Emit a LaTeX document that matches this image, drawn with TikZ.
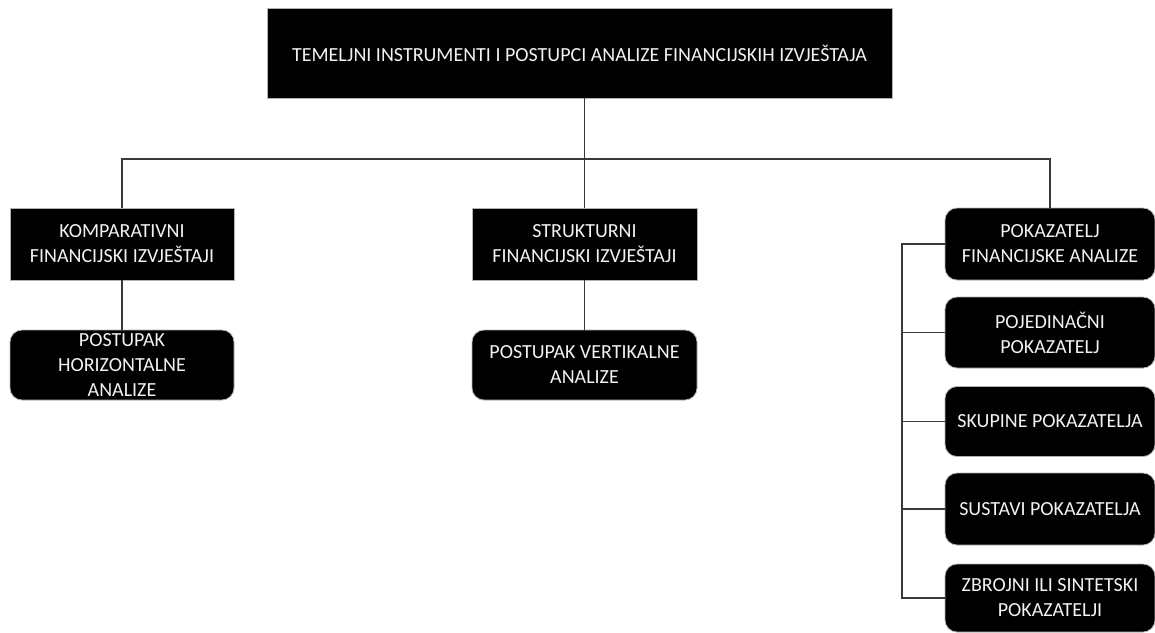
\documentclass[tikz,border=0pt]{standalone}
\usepackage{fontspec}
\setmainfont{Carlito}
\begin{document}
\begin{tikzpicture}[x=1pt,y=-1pt,
  box/.style={draw=gray!60,line width=0.8pt,fill=black,text=white!95!black,align=center,
    inner sep=0pt,font=\fontsize{20}{25}\selectfont},
  rbox/.style={box,rounded corners=12pt},
  conn/.style={draw=gray!45!black,line width=1.1pt}]
\useasboundingbox (0,0) rectangle (1155,632);
\node[box,minimum width=625pt,minimum height=90pt] (top) at (579.5,53) {TEMELJNI INSTRUMENTI I POSTUPCI ANALIZE FINANCIJSKIH IZVJEŠTAJA};
\node[box,minimum width=224pt,minimum height=72pt] (k1) at (122,244) {KOMPARATIVNI\\FINANCIJSKI IZVJEŠTAJI};
\node[rbox,minimum width=224pt,minimum height=70pt] (k2) at (122,365) {POSTUPAK\\HORIZONTALNE\\ANALIZE};
\node[box,minimum width=225pt,minimum height=72pt] (s1) at (584.5,244) {STRUKTURNI\\FINANCIJSKI IZVJEŠTAJI};
\node[rbox,minimum width=225pt,minimum height=70pt] (s2) at (584.5,365) {POSTUPAK VERTIKALNE\\ANALIZE};
\node[rbox,minimum width=210pt,minimum height=72pt] (p1) at (1050,244) {POKAZATELJ\\FINANCIJSKE ANALIZE};
\node[rbox,minimum width=210pt,minimum height=71pt] (p2) at (1050,332.5) {POJEDINAČNI\\POKAZATELJ};
\node[rbox,minimum width=210pt,minimum height=70pt] (p3) at (1050,421.5) {SKUPINE POKAZATELJA};
\node[rbox,minimum width=210pt,minimum height=72pt] (p4) at (1050,509) {SUSTAVI POKAZATELJA};
\node[rbox,minimum width=210pt,minimum height=68pt] (p5) at (1050,598) {ZBROJNI ILI SINTETSKI\\POKAZATELJI};
\coordinate (bus) at (0,159);
\coordinate (rail) at (902,0);
\draw[conn] (s1.north |- top.south) -- (s1.north |- bus);
\draw[conn] (k1.north) -- (k1.north |- bus) -- (p1.north |- bus) -- (p1.north);
\draw[conn] (s1.north |- bus) -- (s1.north);
\draw[conn] (k1.south) -- (k2.north);
\draw[conn] (s1.south) -- (s2.north);
\draw[conn] (p1.west) -- (rail |- p1.west) -- (rail |- p5.west) -- (p5.west);
\draw[conn] (rail |- p2.west) -- (p2.west);
\draw[conn] (rail |- p3.west) -- (p3.west);
\draw[conn] (rail |- p4.west) -- (p4.west);
\end{tikzpicture}
\end{document}
